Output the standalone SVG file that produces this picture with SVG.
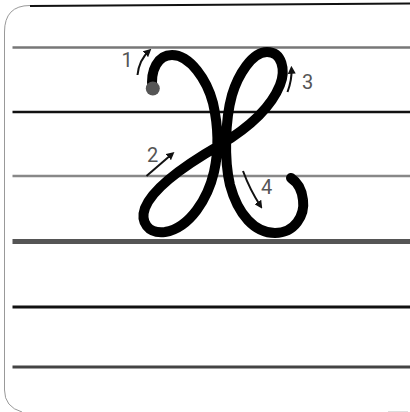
<svg xmlns="http://www.w3.org/2000/svg" width="410" height="412" viewBox="0 0 410 412">
  <defs>
    <style>
      .lbl { font-family: Roboto, "Liberation Sans", sans-serif; font-size: 20px; fill: #555; text-anchor: middle; }
      .arr { fill: none; stroke: #111; stroke-width: 2; marker-end: url(#ah); }
      .guide { stroke-linecap: butt; }
    </style>
    <marker id="ah" viewBox="0 0 10 10" refX="6" refY="5" markerWidth="4" markerHeight="4" orient="auto" markerUnits="strokeWidth">
      <path d="M0,0 L10,5 L0,10 Z" fill="#111"/>
    </marker>
  </defs>
  <rect x="0" y="0" width="410" height="412" fill="#fff"/>
  <g id="frame">
    <path d="M30,5.5 Q4.5,5.5 4.5,32 L4.5,390 Q4.5,407 22,412" fill="none" stroke="#999" stroke-width="1"/>
    <path d="M30,6 L410,3.5" fill="none" stroke="#111" stroke-width="2"/>
    <path d="M388,411.5 L408,411.5" fill="none" stroke="#ddd" stroke-width="1"/>
  </g>
  <g id="guides" class="guide">
    <line x1="12.5" y1="47.5" x2="410" y2="47.5" stroke="#777" stroke-width="2.5"/>
    <line x1="12.5" y1="112" x2="410" y2="112" stroke="#111" stroke-width="2.5"/>
    <line x1="12.5" y1="176" x2="410" y2="176" stroke="#888" stroke-width="2.5"/>
    <line x1="12.5" y1="241.5" x2="410" y2="241.5" stroke="#555" stroke-width="5"/>
    <line x1="12.5" y1="307" x2="410" y2="307" stroke="#111" stroke-width="3"/>
    <line x1="12.5" y1="367" x2="410" y2="367" stroke="#444" stroke-width="3"/>
  </g>
  <g id="letter">
    <path d="M152.5,89 C150,70 158,55 172,55 C190,55 207,80 213,103 C218,125 219,150 214,172 C208,198 190,228 165,232 C148,234 140,222 145,208 C152,190 180,168 220,145 C245,130 270,110 280,85 C286,70 282,52 267,52 C252,52 238,75 232,95 C225,120 224,160 230,185 C238,215 255,233 275,233 C295,233 305,215 303,200 C302,190 297,182 291,178" fill="none" stroke="#000" stroke-width="10" stroke-linecap="round" stroke-linejoin="round"/>
    <circle cx="152.8" cy="88.5" r="7" fill="#555"/>
  </g>
  <g id="connectors">
    <path class="arr" d="M137.5,75 Q139,60 149,51"/>
    <path class="arr" d="M146.5,176 L172,154"/>
    <path class="arr" d="M287.5,92 Q292,80 291.5,69"/>
    <path class="arr" d="M243,171 Q250,190 260.5,206"/>
  </g>
  <g id="labels">
    <text class="lbl" x="127" y="67">1</text>
    <text class="lbl" x="152.5" y="162">2</text>
    <text class="lbl" x="307.5" y="88.5">3</text>
    <text class="lbl" x="266.5" y="193.5">4</text>
  </g>
</svg>
